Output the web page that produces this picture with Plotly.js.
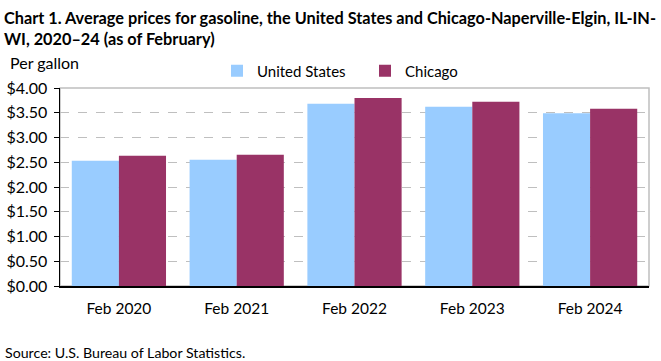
<!DOCTYPE html>
<html>
<head>
<meta charset="utf-8">
<script src="https://cdn.plot.ly/plotly-3.0.1.min.js"></script>
<style>html,body{margin:0;padding:0;background:#fff;}#chart{width:661px;height:361px;}</style>
</head>
<body>
<div id="chart"></div>
<script>
const categories = ["Feb 2020", "Feb 2021", "Feb 2022", "Feb 2023", "Feb 2024"];
const usValues = [2.53, 2.55, 3.68, 3.62, 3.49];
const chicagoValues = [2.63, 2.65, 3.80, 3.72, 3.58];
const tickVals = [0, 0.5, 1, 1.5, 2, 2.5, 3, 3.5, 4];
const tickText = ["$0.00", "$0.50", "$1.00", "$1.50", "$2.00", "$2.50", "$3.00", "$3.50", "$4.00"];

const FONT = "Lato, 'Open Sans', sans-serif";
const traces = [
  {type: "bar", name: "United States", x: categories, y: usValues, marker: {color: "#99ccff"}, hoverinfo: "none"},
  {type: "bar", name: "Chicago", x: categories, y: chicagoValues, marker: {color: "#993366"}, hoverinfo: "none"}
];
const layout = {
  width: 661, height: 361,
  margin: {l: 60, r: 12, t: 88, b: 75},
  paper_bgcolor: "#fff", plot_bgcolor: "#fff",
  font: {family: FONT, size: 16, color: "#000"},
  barmode: "group", bargap: 0.2, bargroupgap: 0,
  title: {
    text: "<b>Chart 1. Average prices for gasoline, the United States and Chicago-Naperville-Elgin, IL-IN-<br>WI, 2020–24 (as of February)</b>",
    font: {family: FONT, size: 16.3, color: "#000"},
    xref: "container", yref: "container", x: 0.006, xanchor: "left", y: 1 - 24/361, yanchor: "middle"
  },
  showlegend: true,
  legend: {orientation: "h", xref: "container", yref: "container", x: 217 / 661, xanchor: "left", y: 1 - 71/361, yanchor: "middle",
    font: {family: FONT, size: 15}, traceorder: "normal", entrywidth: 103, entrywidthmode: "pixels", bgcolor: "rgba(0,0,0,0)"},
  xaxis: {
    type: "category", showline: true, linecolor: "#000", linewidth: 2, ticks: "", showgrid: false,
    tickfont: {family: FONT, size: 15.5}, ticklabelstandoff: 7, zeroline: false
  },
  yaxis: {
    range: [0, 4], tickvals: tickVals, ticktext: tickText, showline: true, linecolor: "#000", linewidth: 1.5,
    ticks: "outside", ticklen: 5, tickcolor: "#000", showgrid: true, gridcolor: "#bfbfbf", griddash: "dash", gridwidth: 1,
    zeroline: false, tickfont: {family: FONT, size: 16}, ticklabelstandoff: 3
  },
  shapes: [
    {type: "rect", xref: "paper", yref: "paper", x0: 0, x1: 1, y0: 0, y1: 1, line: {color: "#bfbfbf", width: 1.5}, layer: "below"}
  ],
  annotations: [
    {text: "Per gallon", xref: "paper", yref: "paper", x: (8 - 60) / 589, xanchor: "left", y: (286 - 63) / 198, yanchor: "middle", showarrow: false, font: {family: FONT, size: 16}},
    {text: "Source: U.S. Bureau of Labor Statistics.", xref: "paper", yref: "paper", x: (3 - 60) / 589, xanchor: "left", y: (286 - 352) / 198, yanchor: "middle", showarrow: false, font: {family: FONT, size: 14.2}}
  ]
};
Plotly.newPlot("chart", traces, layout, {displayModeBar: false, staticPlot: true});
</script>
</body>
</html>
